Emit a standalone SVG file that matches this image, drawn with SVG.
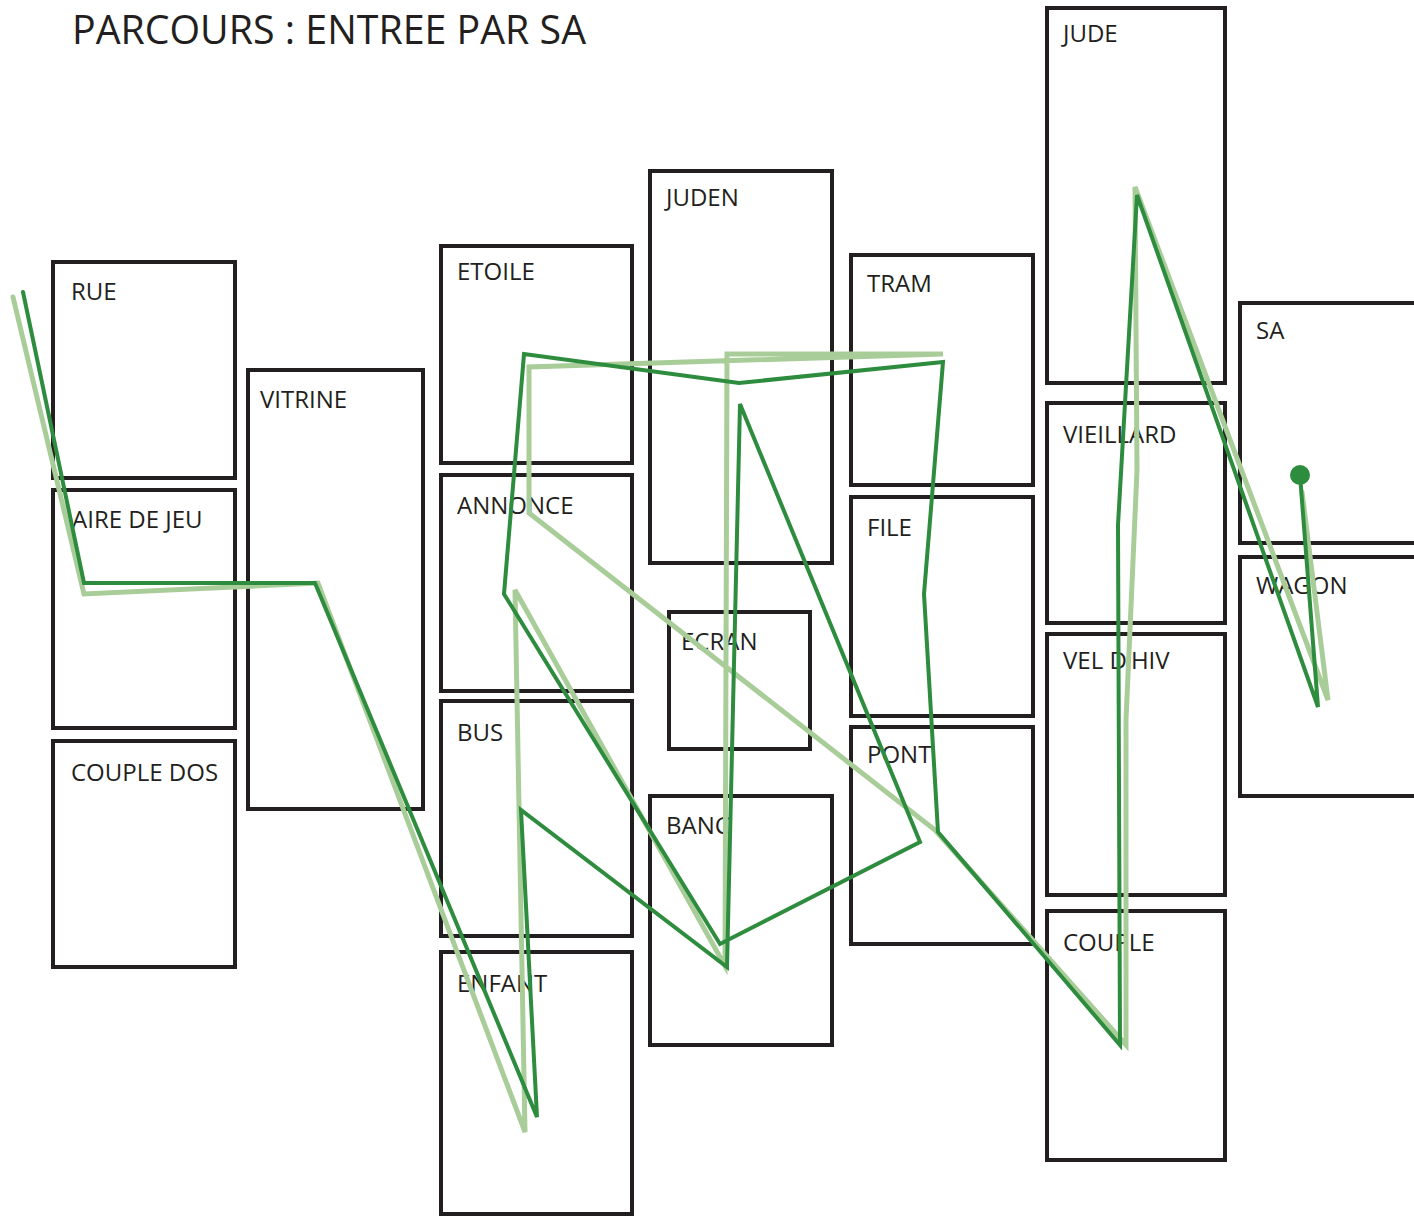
<svg xmlns="http://www.w3.org/2000/svg" width="1414" height="1216" viewBox="0 0 1414 1216">
<style>
.box{fill:none;stroke:#231f20;stroke-width:4}
.lbl{font-family:"Open Sans","Noto Sans",sans-serif;font-size:24px;fill:#231f20}
.title{font-family:"Open Sans","Noto Sans",sans-serif;font-size:41px;fill:#231f20}
.light{fill:none;stroke:#a9cd99;stroke-width:5;stroke-linejoin:miter;stroke-linecap:round}
.dark{fill:none;stroke:#2e8c3e;stroke-width:4;stroke-linejoin:miter;stroke-linecap:round}
</style>
<rect width="1414" height="1216" fill="#ffffff"/>
<text class="title" x="72" y="44" textLength="514" lengthAdjust="spacingAndGlyphs">PARCOURS : ENTREE PAR SA</text>
<g id="rue"><rect class="box" x="53" y="262" width="182" height="216"/><text class="lbl" x="71" y="300">RUE</text></g>
<g id="aire-de-jeu"><rect class="box" x="53" y="490" width="182" height="238"/><text class="lbl" x="72" y="528">AIRE DE JEU</text></g>
<g id="couple-dos"><rect class="box" x="53" y="741" width="182" height="226"/><text class="lbl" x="71" y="781">COUPLE DOS</text></g>
<g id="vitrine"><rect class="box" x="248" y="370" width="175" height="439"/><text class="lbl" x="260" y="408">VITRINE</text></g>
<g id="etoile"><rect class="box" x="441" y="246" width="191" height="217"/><text class="lbl" x="457" y="280">ETOILE</text></g>
<g id="annonce"><rect class="box" x="441" y="475" width="191" height="216"/><text class="lbl" x="457" y="514">ANNONCE</text></g>
<g id="bus"><rect class="box" x="441" y="701" width="191" height="235"/><text class="lbl" x="457" y="741">BUS</text></g>
<g id="enfant"><rect class="box" x="441" y="952" width="191" height="262"/><text class="lbl" x="457" y="992">ENFANT</text></g>
<g id="juden"><rect class="box" x="650" y="171" width="182" height="392"/><text class="lbl" x="666" y="206">JUDEN</text></g>
<g id="ecran"><rect class="box" x="669" y="612" width="141" height="137"/><text class="lbl" x="681" y="650">ECRAN</text></g>
<g id="banc"><rect class="box" x="650" y="796" width="182" height="249"/><text class="lbl" x="666" y="834">BANC</text></g>
<g id="tram"><rect class="box" x="851" y="255" width="182" height="230"/><text class="lbl" x="867" y="292">TRAM</text></g>
<g id="file"><rect class="box" x="851" y="497" width="182" height="219"/><text class="lbl" x="867" y="536">FILE</text></g>
<g id="pont"><rect class="box" x="851" y="727" width="182" height="217"/><text class="lbl" x="867" y="763">PONT</text></g>
<g id="jude"><rect class="box" x="1047" y="8" width="178" height="375"/><text class="lbl" x="1063" y="42">JUDE</text></g>
<g id="vieillard"><rect class="box" x="1047" y="403" width="178" height="220"/><text class="lbl" x="1063" y="443">VIEILLARD</text></g>
<g id="vel-dhiv"><rect class="box" x="1047" y="634" width="178" height="261"/><text class="lbl" x="1063" y="669">VEL D’HIV</text></g>
<g id="couple"><rect class="box" x="1047" y="911" width="178" height="249"/><text class="lbl" x="1063" y="951">COUPLE</text></g>
<g id="sa"><rect class="box" x="1240" y="303" width="180" height="240"/><text class="lbl" x="1256" y="339">SA</text></g>
<g id="wagon"><rect class="box" x="1240" y="557" width="180" height="239"/><text class="lbl" x="1256" y="594">WAGON</text></g>
<g id="connectors">
<polyline class="light" points="1302,492 1328,700 1135,187 1137,470 1126,720 1126,1045 935,830 529,513 529,367 943,354 727,354 725,966 515,590 525,1132 318,583 84,594 13,297"/>
<polyline class="dark" points="1300,475 1318,707 1137,195 1118,525 1120,1045 938,832 924,594 943,362 739,383 524,354 504,594 720,944 920,842 740,404 727,967 521,810 537,1117 315,583 84,583 23,292"/>
<circle cx="1300" cy="475" r="10" fill="#2e8c3e"/>
</g>
</svg>
